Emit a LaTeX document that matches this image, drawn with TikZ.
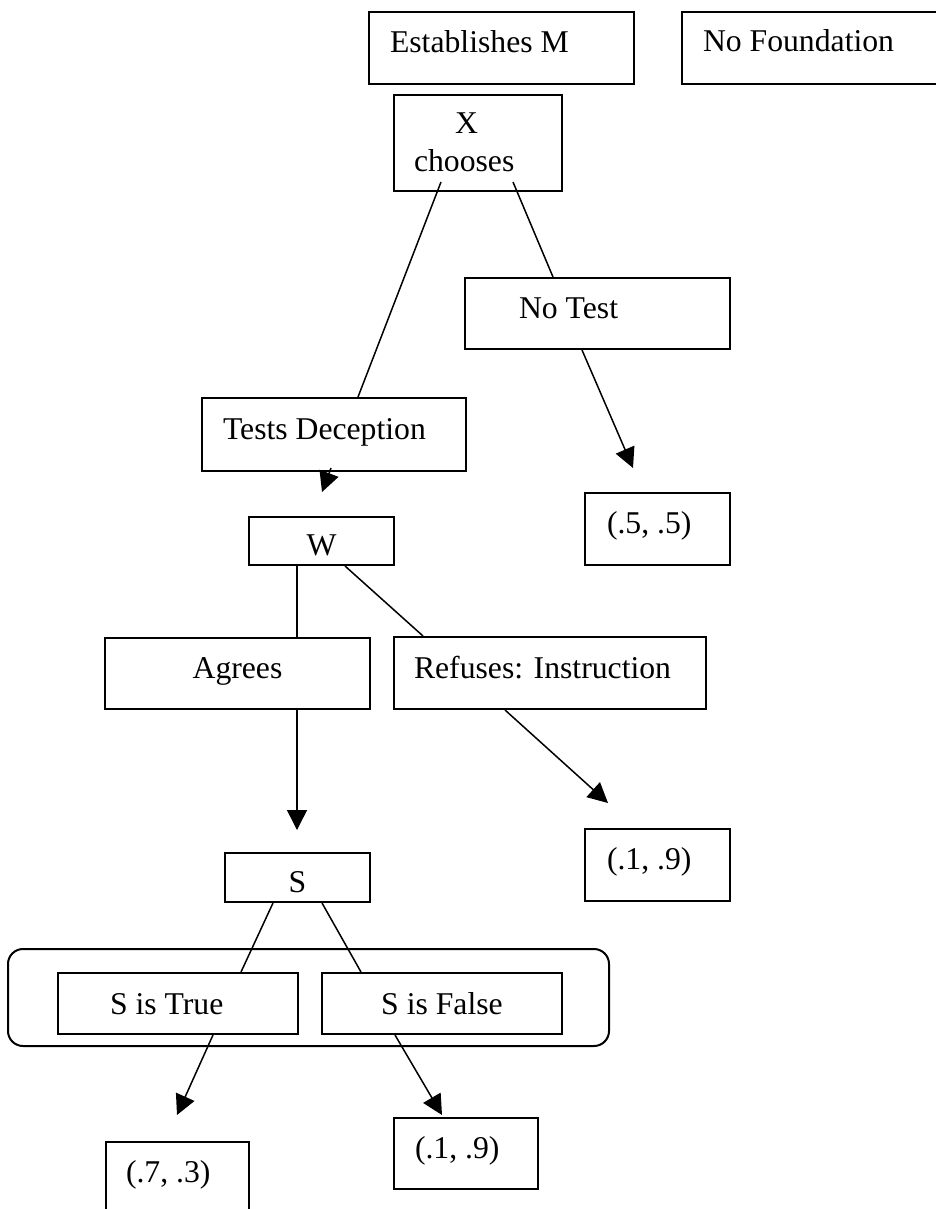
\documentclass[tikz,border=0pt]{standalone}
\usepackage{fontspec}
\setmainfont{Liberation Serif}
\usetikzlibrary{arrows.meta}

\begin{document}
\begin{tikzpicture}[x=0.5pt,y=-0.5pt,font=\fontsize{15.85}{19}\selectfont]
        \tikzstyle{box}=[draw, line width=1pt, anchor=north west, inner ysep=0pt, align=flush left]
        \tikzstyle{midbox}=[box, inner xsep=0pt, align=flush center]
        \tikzstyle{link}=[line width=0.75pt]
        \tikzstyle{arr}=[link, -{Triangle[length=10pt,width=10pt]}]
        \useasboundingbox (0,0) rectangle (936,1209);
        \clip (0,0) rectangle (936,1209);
        \node [box, inner xsep=10.5pt, text width=111.5pt, text height=20.5pt, text depth=15.5pt] (estm) at (368,11) {Establishes M};
        \node [box, inner xsep=10.5pt, text width=113.5pt, text height=20pt, text depth=16pt] (nofd) at (681,11) {No Foundation};
        \node [box, inner xsep=10pt, text width=64pt, text height=19.5pt, text depth=28.5pt] (xch) at (393,94) {\hspace*{20.5pt}X\\chooses};
        \node [box, inner xsep=27pt, text width=78.5pt, text height=20pt, text depth=15.5pt] (notest) at (464,277) {No Test};
        \node [box, inner xsep=10.5pt, text width=111pt, text height=20.5pt, text depth=16pt] (tdec) at (201,397) {Tests Deception};
        \node [midbox, text width=72.5pt, text height=19pt, text depth=5pt] (w) at (248,516) {W};
        \node [box, inner xsep=11pt, text width=50.5pt, text height=20pt, text depth=16pt] (pay55) at (584,492) {(.5, .5)};
        \node [midbox, text width=132.5pt, text height=20pt, text depth=15.5pt] (agr) at (104,637) {Agrees};
        \node [box, inner xsep=10pt, text width=136pt, text height=20.5pt, text depth=15.5pt] (ref) at (393,636) {Refuses: Instruction};
        \node [box, inner xsep=11pt, text width=50.5pt, text height=20pt, text depth=16pt] (payref) at (584,828) {(.1, .9)};
        \node [midbox, text width=72.5pt, text height=19.5pt, text depth=5pt] (s) at (224,852) {S};
        \node [draw, line width=1pt, rounded corners=7.5pt, anchor=north west, inner sep=0pt, minimum width=300.5pt, minimum height=48.5pt] (grp) at (7,948) {};
        \node [box, inner xsep=26pt, text width=68pt, text height=20.5pt, text depth=10pt] (strue) at (57,972) {S is True};
        \node [midbox, text width=120pt, text height=20.5pt, text depth=10pt] (sfalse) at (321,972) {S is False};
        \node [box, inner xsep=10pt, text width=51.5pt, text height=20pt, text depth=16pt] (paytrue) at (105,1141) {(.7, .3)};
        \node [box, inner xsep=10.5pt, text width=51pt, text height=20pt, text depth=15.5pt] (payfalse) at (393,1117) {(.1, .9)};
        \draw [link] ([shift={(48,-10)}]xch.south west) -- ([shift={(157,0)}]tdec.north west);
        \draw [link] ([shift={(120,-10)}]xch.south west) -- ([shift={(89,0)}]notest.north west);
        \draw [arr] ([shift={(118,0)}]notest.south west) -- ([shift={(49,-24)}]pay55.north west);
        \draw [arr] ([shift={(130,-4)}]tdec.south west) -- ([shift={(74,-24)}]w.north west);
        \draw [link] ([shift={(49,0)}]w.south west) -- ([shift={(193,0)}]agr.north west);
        \draw [link] ([shift={(97,0)}]w.south west) -- ([shift={(30,0)}]ref.north west);
        \draw [arr] ([shift={(193,0)}]agr.south west) -- ([shift={(73,-22)}]s.north west);
        \draw [arr] ([shift={(112,0)}]ref.south west) -- ([shift={(24,-25)}]payref.north west);
        \draw [link] ([shift={(49,0)}]s.south west) -- ([shift={(184,0)}]strue.north west);
        \draw [link] ([shift={(98,0)}]s.south west) -- ([shift={(40,0)}]sfalse.north west);
        \draw [arr] ([shift={(156,0)}]strue.south west) -- ([shift={(72,-26)}]paytrue.north west);
        \draw [arr] ([shift={(74,0)}]sfalse.south west) -- ([shift={(49,-2)}]payfalse.north west);
\end{tikzpicture}
\end{document}
